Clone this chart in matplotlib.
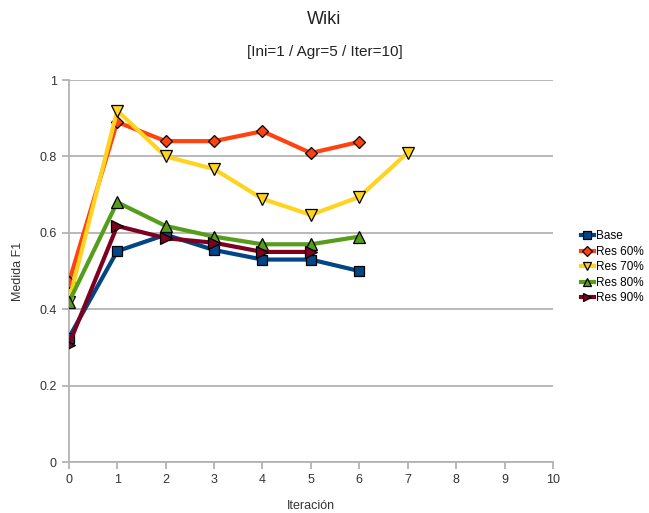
import matplotlib.pyplot as plt

plt.rcParams['font.family'] = ['Liberation Sans', 'DejaVu Sans']

# F1 por iteración para cada configuración
iteraciones = [0, 1, 2, 3, 4, 5, 6, 7]
base = [0.325, 0.552, 0.595, 0.555, 0.53, 0.53, 0.50]
res60 = [0.47, 0.89, 0.84, 0.84, 0.866, 0.809, 0.838]
res70 = [0.42, 0.92, 0.80, 0.767, 0.689, 0.647, 0.694, 0.81]
res80 = [0.418, 0.68, 0.618, 0.59, 0.57, 0.57, 0.59]
res90 = [0.307, 0.618, 0.586, 0.574, 0.55, 0.55]

series = [
    ('Base', base, '#004586', 's', 7),
    ('Res 60%', res60, '#ff420e', 'D', 6),
    ('Res 70%', res70, '#ffd320', 'v', 8),
    ('Res 80%', res80, '#579d1c', '^', 8),
    ('Res 90%', res90, '#7e0021', '>', 8),
]

fig = plt.figure(figsize=(6.49, 5.13), dpi=100)
ax = fig.add_axes([0.106, 0.0994, 0.746, 0.7446])

for name, vals, color, marker, ms in series:
    ax.plot(iteraciones[:len(vals)], vals, color=color, lw=3, marker=marker,
            markersize=ms, markeredgecolor='black', markeredgewidth=0.9,
            label=name, zorder=3)

ax.set_xlim(0, 10)
ax.set_ylim(0, 1)
ax.set_xticks(range(0, 11))
ax.set_yticks([0, 0.2, 0.4, 0.6, 0.8, 1])
ax.set_yticklabels(['0', '0.2', '0.4', '0.6', '0.8', '1'])
ax.grid(axis='y', color='#b3b3b3', lw=1.3, zorder=0)
for side in ('top', 'right'):
    ax.spines[side].set_visible(False)
for side in ('left', 'bottom'):
    ax.spines[side].set_color('#b3b3b3')
    ax.spines[side].set_linewidth(1.3)
ax.tick_params(colors='#b3b3b3', labelcolor='#333333', labelsize=9,
               length=5, width=1.3, direction='out')

ax.set_xlabel('Iteración', fontsize=9, color='#333333', labelpad=10)
ax.set_ylabel('Medida F1', fontsize=9, color='#333333')
ax.yaxis.set_label_coords(-0.093, 0.5)

fig.text(0.5, 0.962, 'Wiki', ha='center', va='center', fontsize=13, color='#222222')
fig.text(0.5, 0.898, '[Ini=1 / Agr=5 / Iter=10]', ha='center', va='center',
         fontsize=11, color='#222222')

ax.legend(loc='center left', bbox_to_anchor=(1.035, 0.51), frameon=False,
          fontsize=8.5, handlelength=1.1, handletextpad=0.2, labelspacing=0.3,
          markerscale=0.8)

fig.savefig('out.png', dpi=100)
